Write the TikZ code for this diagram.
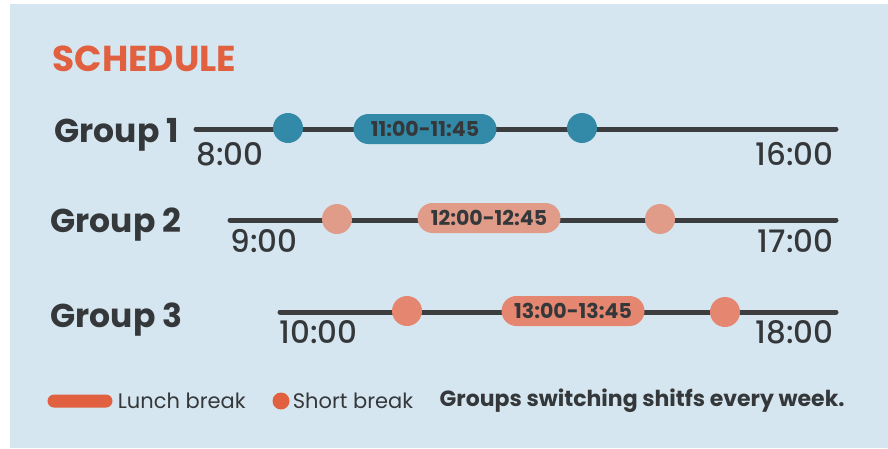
\documentclass[tikz,border=0pt]{standalone}
\usepackage{fontspec}
\setmainfont{Poppins}
\newfontfamily\medfont{Poppins Medium}
\usepackage{xcolor}
\usepackage{tikz}
\usetikzlibrary{positioning}
\definecolor{bgblue}{HTML}{D6E6F0}
\definecolor{titleorange}{HTML}{E0603F}
\definecolor{darktext}{HTML}{35383A}
\definecolor{linegray}{HTML}{3C3D3E}
\definecolor{tealone}{HTML}{3389A8}
\definecolor{salmontwo}{HTML}{E09C88}
\definecolor{salmonthree}{HTML}{E48670}

\begin{document}
\begin{tikzpicture}[x=1pt, y=-1pt,
		timeline/.style={draw=linegray, line width=5pt, line cap=round},
		shortdot/.style={circle, fill=#1, minimum size=30pt, inner sep=0pt},
		lunchpill/.style={rectangle, rounded corners=15pt, fill=#1, minimum width=143pt, minimum height=30pt, inner sep=0pt, text=darktext, font=\bfseries\fontsize{20.5}{20.5}\selectfont},
		grouplabel/.style={anchor=base west, text=darktext, font=\bfseries\fontsize{33}{33}\selectfont},
		timelabel/.style={text=darktext, font=\medfont\fontsize{31}{31}\selectfont},
		legendtext/.style={text=darktext, inner sep=0pt, font=\fontsize{21}{21}\selectfont}]
		
		\useasboundingbox (0,0) rectangle (888,448);
		\fill[bgblue] (10,4) rectangle (888,448);
		
		\node[anchor=base west, text=titleorange, font=\bfseries\fontsize{36}{36}\selectfont] (title) at (49,71) {SCHEDULE};
		
		% group 1
		\node[grouplabel] (g1) at (51,142) {Group 1};
		\coordinate (s1) at (196,129);
		\coordinate (e1) at (836,129);
		\draw[timeline] (s1) -- (e1);
		\node[shortdot=tealone] (d1a) at (288,128) {};
		\node[shortdot=tealone] (d1b) at (582,128) {};
		\node[lunchpill=tealone] (l1) at (425,129) {11:00-11:45};
		\node[timelabel, anchor=base west] (t1a) at (193,165) {8:00};
		\node[timelabel, anchor=base east] (t1b) at (837,165) {16:00};
		
		% group 2
		\node[grouplabel] (g2) at (47,232) {Group 2};
		\coordinate (s2) at (230,220);
		\coordinate (e2) at (836,220);
		\draw[timeline] (s2) -- (e2);
		\node[shortdot=salmontwo] (d2a) at (337,219) {};
		\node[shortdot=salmontwo] (d2b) at (660,219) {};
		\node[lunchpill=salmontwo] (l2) at (489,218) {12:00-12:45};
		\node[timelabel, anchor=base west] (t2a) at (227,252) {9:00};
		\node[timelabel, anchor=base east] (t2b) at (837,252) {17:00};
		
		% group 3
		\node[grouplabel] (g3) at (47,327) {Group 3};
		\coordinate (s3) at (280,312);
		\coordinate (e3) at (836,312);
		\draw[timeline] (s3) -- (e3);
		\node[shortdot=salmonthree] (d3a) at (407,311) {};
		\node[shortdot=salmonthree] (d3b) at (725,312) {};
		\node[lunchpill=salmonthree] (l3) at (573,311) {13:00-13:45};
		\node[timelabel, anchor=base west] (t3a) at (276,343) {10:00};
		\node[timelabel, anchor=base east] (t3b) at (837,343) {18:00};
		
		% legend
		\node[rectangle, rounded corners=6.5pt, fill=titleorange, minimum width=65pt, minimum height=13pt, inner sep=0pt] (lg1) at (80,401) {};
		\node[legendtext, right=5pt of lg1] (lgt1) {Lunch break};
		\node[circle, fill=titleorange, minimum size=17pt, inner sep=0pt] (lg2) at (281,401) {};
		\node[legendtext, right=3pt of lg2] (lgt2) {Short break};
		\node[legendtext, right=26pt of lgt2, font=\bfseries\fontsize{22}{22}\selectfont] (note) {Groups switching shitfs every week.};
		
\end{tikzpicture}
\end{document}
